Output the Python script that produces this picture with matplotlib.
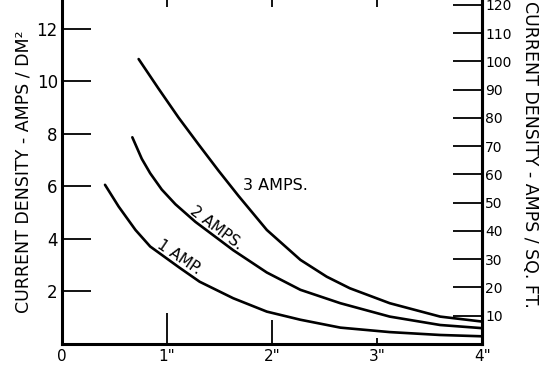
import matplotlib
matplotlib.use('Agg')
import matplotlib.pyplot as plt

# distance in inches vs current density (amps / dm^2)
x_1amp = [0.41, 0.54, 0.70, 0.84, 1.12, 1.31, 1.63, 1.95, 2.27, 2.65, 3.12, 3.6, 4.0]
y_1amp = [6.06, 5.23, 4.34, 3.71, 2.90, 2.37, 1.74, 1.23, 0.92, 0.62, 0.45, 0.34, 0.29]

x_2amp = [0.67, 0.76, 0.84, 0.95, 1.08, 1.27, 1.52, 1.63, 1.95, 2.27, 2.65, 3.12, 3.6, 4.0]
y_2amp = [7.87, 7.05, 6.50, 5.88, 5.32, 4.65, 3.90, 3.57, 2.72, 2.06, 1.55, 1.04, 0.72, 0.60]

x_3amp = [0.73, 0.92, 1.11, 1.30, 1.49, 1.68, 1.95, 2.27, 2.52, 2.74, 3.12, 3.6, 4.0]
y_3amp = [10.85, 9.72, 8.62, 7.60, 6.60, 5.64, 4.34, 3.20, 2.56, 2.12, 1.55, 1.04, 0.85]

curve_labels = ['1 AMP.', '2 AMPS.', '3 AMPS.']

x_ticks = [0, 1, 2, 3, 4]
x_ticklabels = ['0', '1"', '2"', '3"', '4"']
left_ticks = [2, 4, 6, 8, 10, 12]
right_ticks = [10, 20, 30, 40, 50, 60, 70, 80, 90, 100, 110, 120]

DM2_PER_SQFT = 9.29
ymax = 13.1

plt.rcParams['font.family'] = 'DejaVu Sans'
fig = plt.figure(figsize=(5.53, 3.69), dpi=100)
ax = fig.add_axes([0.112, 0.068, 0.76, 0.932])

for xs, ys in [(x_1amp, y_1amp), (x_2amp, y_2amp), (x_3amp, y_3amp)]:
    ax.plot(xs, ys, color='black', lw=1.9, solid_joinstyle='round',
            solid_capstyle='round')

ax.set_xlim(0, 4)
ax.set_ylim(0, ymax)
ax.spines['top'].set_visible(False)
for s in ['left', 'bottom', 'right']:
    ax.spines[s].set_linewidth(2.2)

ax.set_xticks(x_ticks)
ax.set_xticklabels(x_ticklabels, fontsize=11)
ax.tick_params(axis='x', direction='in', width=1.3, top=True, pad=4)
bottom_len = [0, 22, 17, 4, 0]
top_len = [0, 5, 5, 5, 0]
for t, bl, tl in zip(ax.xaxis.get_major_ticks(), bottom_len, top_len):
    t.tick1line.set_markersize(bl)
    t.tick2line.set_markersize(tl)

ax.set_yticks(left_ticks)
ax.tick_params(axis='y', direction='in', length=21, width=1.3, labelsize=12, pad=3)
ax.set_ylabel('CURRENT DENSITY - AMPS / DM²', fontsize=12.5)
ax.yaxis.set_label_coords(-0.071, 0.5)

ax2 = ax.twinx()
ax2.set_ylim(0, ymax * DM2_PER_SQFT)
ax2.set_yticks(right_ticks)
ax2.tick_params(axis='y', direction='in', length=21, width=1.3, labelsize=10, pad=2)
for s in ['left', 'bottom', 'top']:
    ax2.spines[s].set_visible(False)
ax2.spines['right'].set_linewidth(2.2)
ax2.set_ylabel('CURRENT DENSITY - AMPS / SQ. FT.', fontsize=12.5, rotation=270)
ax2.yaxis.set_label_coords(1.135, 0.55)

ax.text(1.12, 3.3, curve_labels[0], fontsize=11, rotation=-34, ha='center', va='center')
ax.text(1.47, 4.42, curve_labels[1], fontsize=11, rotation=-37, ha='center', va='center')
ax.text(2.03, 6.02, curve_labels[2], fontsize=11.5, ha='center', va='center')

fig.savefig('out.png', dpi=100)
